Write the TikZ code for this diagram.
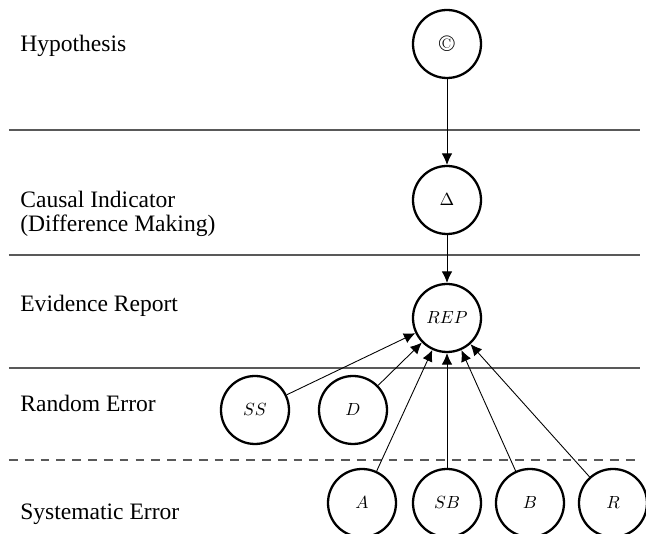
\documentclass[tikz,border=0pt]{standalone}
\usepackage{fontspec}
\setmainfont{Liberation Serif}
\usetikzlibrary{arrows.meta}

\begin{document}
\begin{tikzpicture}[
		var/.style={draw, circle, line width=1.3pt, minimum size=1.36cm, inner sep=0pt, font=\fontsize{9.8}{11}\selectfont},
		level/.style={anchor=base west, inner sep=0pt, align=left, font=\fontsize{13.4}{14.2}\selectfont},
		sep/.style={gray!70!black, line width=0.7pt},
		edge/.style={-{Latex[length=6.5pt, width=6pt]}, line width=0.5pt}
	]
			\useasboundingbox (0,0) rectangle (12.92,10.68);
			\clip (0,0) rectangle (12.92,10.68);
			\draw [sep] (0.18,8.08) -- (12.8,8.08);
			\draw [sep] (0.18,5.58) -- (12.8,5.58);
			\draw [sep] (0.18,3.32) -- (12.8,3.32);
			\draw [sep, dashed, dash pattern=on 5pt off 4pt] (0.18,1.48) -- (12.8,1.48);
			\node [level] (lhyp) at (0.4, 9.64) {Hypothesis};
			\node [level] (lind) at (0.4, 6.04) {Causal Indicator\\(Difference Making)};
			\node [level] (lrep) at (0.4, 4.44) {Evidence Report};
			\node [level] (lrand) at (0.4, 2.44) {Random Error};
			\node [level] (lsys) at (0.4, 0.28) {Systematic Error};
			\node [var] (hyp) at (8.94, 9.80) {\fontfamily{lmr}\fontsize{13}{14}\selectfont\textcopyright};
			\node [var] (ind) at (8.94, 6.68) {$\Delta$};
			\node [var] (rep) at (8.94, 4.32) {$REP$};
			\node [var] (ss) at (5.10, 2.48) {$SS$};
			\node [var] (d) at (7.06, 2.48) {$D$};
			\node [var] (a) at (7.24, 0.62) {$A$};
			\node [var] (sb) at (8.94, 0.62) {$SB$};
			\node [var] (b) at (10.60, 0.62) {$B$};
			\node [var] (r) at (12.26, 0.62) {$R$};
			\draw [edge] (hyp) -- (ind);
			\draw [edge] (ind) -- (rep);
			\draw [edge] (ss) -- (rep);
			\draw [edge] (d) -- (rep);
			\draw [edge] (a) -- (rep);
			\draw [edge] (sb) -- (rep);
			\draw [edge] (b) -- (rep);
			\draw [edge] (r) -- (rep);
	\end{tikzpicture}
\end{document}
